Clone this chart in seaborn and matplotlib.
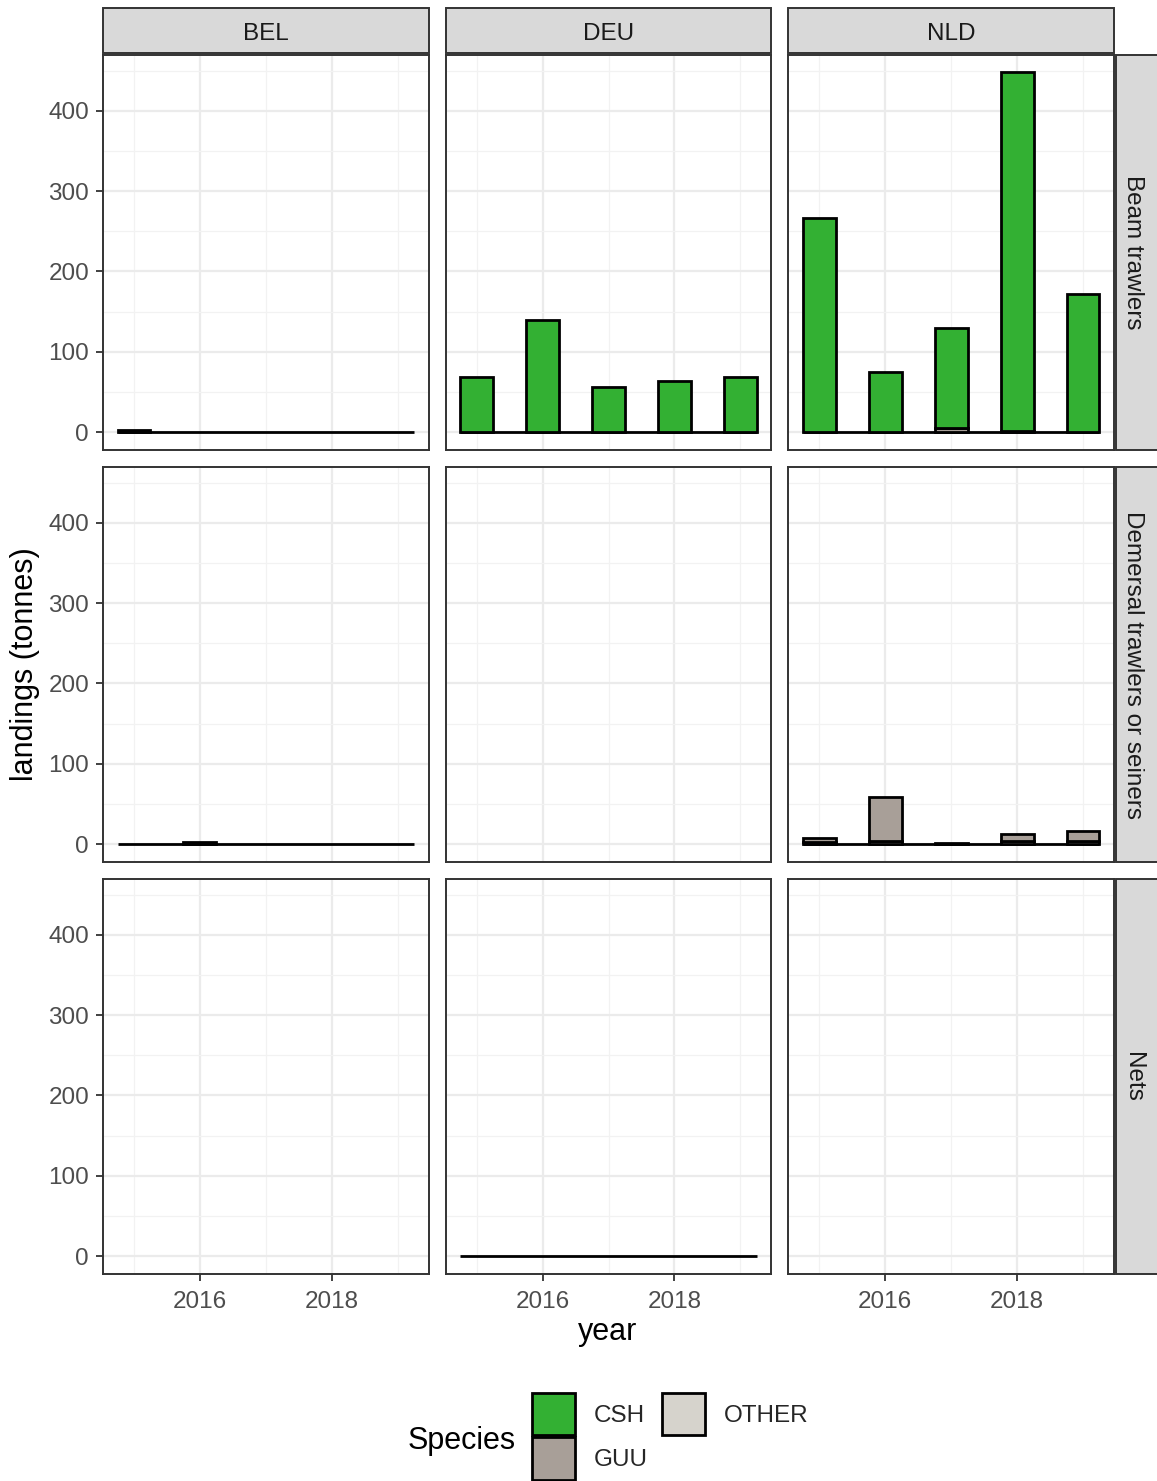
import matplotlib
matplotlib.use("Agg")
import matplotlib.pyplot as plt
from matplotlib.patches import Rectangle, Patch
from matplotlib.ticker import MultipleLocator, FixedLocator
import seaborn as sns
import pandas as pd
import numpy as np

# ---- data -------------------------------------------------------------
countries = ["BEL", "DEU", "NLD"]
gears = ["Beam trawlers", "Demersal trawlers or seiners", "Nets"]
species = ["CSH", "GUU", "OTHER"]
species_colors = ["#33B033", "#A89F98", "#D6D3CC"]
years = [2015, 2016, 2017, 2018, 2019]

# landings (tonnes) per year, 2015-2019
bel_beam_csh = [2, 0, 0, 0, 0]
deu_beam_csh = [68, 140, 56, 63, 68]
nld_beam_csh = [266, 75, 125, 447, 172]
nld_beam_guu = [0, 0, 5, 1, 0]
bel_dem_guu = [0, 2, 0, 0, 0]
nld_dem_guu = [6, 54, 1, 8, 12]
nld_dem_other = [2, 4, 0, 4, 4]
deu_nets_other = [0, 0, 0, 0, 0]

records = [
    ("BEL", "Beam trawlers", "CSH", bel_beam_csh),
    ("DEU", "Beam trawlers", "CSH", deu_beam_csh),
    ("NLD", "Beam trawlers", "CSH", nld_beam_csh),
    ("NLD", "Beam trawlers", "GUU", nld_beam_guu),
    ("BEL", "Demersal trawlers or seiners", "GUU", bel_dem_guu),
    ("NLD", "Demersal trawlers or seiners", "GUU", nld_dem_guu),
    ("NLD", "Demersal trawlers or seiners", "OTHER", nld_dem_other),
    ("DEU", "Nets", "OTHER", deu_nets_other),
]
rows = []
for c, g, s, vals in records:
    for y, v in zip(years, vals):
        rows.append({"country": c, "gear": g, "species": s, "year": y, "landings": v})
df = pd.DataFrame(rows)
df["country"] = pd.Categorical(df["country"], countries)
df["gear"] = pd.Categorical(df["gear"], gears)

# ---- style ------------------------------------------------------------
sns.set_theme(style="white")
plt.rcParams["font.family"] = ["Liberation Sans", "DejaVu Sans"]

BAR_W = 0.5
EDGE = "black"


def stacked_bars(data, **kw):
    ax = plt.gca()
    if data.empty:
        return
    wide = (data.pivot_table(index="year", columns="species", values="landings",
                             aggfunc="sum", observed=False)
            .reindex(columns=species, fill_value=0).fillna(0))
    xs = wide.index.values.astype(float)
    ax.hlines(0, xs.min() - BAR_W / 2, xs.max() + BAR_W / 2, color=EDGE, lw=2.0, zorder=3)
    bottom = np.zeros(len(wide))
    # stack from the last species level upward so the first ends on top
    for sp, col in zip(species[::-1], species_colors[::-1]):
        h = wide[sp].values
        mask = h > 0
        if mask.any():
            ax.bar(xs[mask], h[mask], bottom=bottom[mask], width=BAR_W,
                   color=col, edgecolor=EDGE, linewidth=2.0, zorder=3)
        bottom += h


g = sns.FacetGrid(df, row="gear", col="country", row_order=gears, col_order=countries,
                  sharex=True, sharey=True, height=4, aspect=0.82, despine=False,
                  dropna=False)
g.map_dataframe(stacked_bars)
g.set_titles("")
g.set_axis_labels("", "")

fig = g.figure
fig.set_size_inches(11.57, 14.81)
W, H = 1157, 1481
fig.subplots_adjust(left=103 / W, right=1114 / W, top=1 - 55 / H, bottom=1 - 1274 / H,
                    wspace=17 / 326, hspace=17 / 395)

TICK_C = "#4D4D4D"
BORDER_C = "#333333"
for i, gear in enumerate(gears):
    for j, ctry in enumerate(countries):
        ax = g.axes[i, j]
        ax.set_xlim(2014.53, 2019.47)
        ax.set_ylim(-22.35, 469.35)
        ax.xaxis.set_major_locator(FixedLocator([2016, 2018]))
        ax.xaxis.set_minor_locator(FixedLocator([2015, 2017, 2019]))
        ax.yaxis.set_major_locator(MultipleLocator(100))
        ax.yaxis.set_minor_locator(FixedLocator([50, 150, 250, 350, 450]))
        ax.grid(True, which="major", color="#EBEBEB", lw=1.6, zorder=0)
        ax.grid(True, which="minor", color="#F2F2F2", lw=0.9, zorder=0)
        ax.set_axisbelow(True)
        for sp in ax.spines.values():
            sp.set_color(BORDER_C)
            sp.set_linewidth(1.4)
            sp.set_zorder(5)
        ax.tick_params(which="major", length=5, width=1.3, color=BORDER_C,
                       labelsize=17.5, labelcolor=TICK_C,
                       left=(j == 0), bottom=(i == 2))
        ax.tick_params(axis="x", which="major", pad=7)
        ax.tick_params(axis="y", which="major", pad=5)
        ax.tick_params(which="minor", length=0)
        ax.set_xticklabels(["2016", "2018"] if i == 2 else [])
        if j == 0:
            ax.set_yticks([0, 100, 200, 300, 400])
            ax.set_yticklabels(["0", "100", "200", "300", "400"])
        else:
            ax.tick_params(labelleft=False)
        # column strip
        if i == 0:
            ax.add_patch(Rectangle((0, 1 + 2 / 395), 1, 45 / 395, transform=ax.transAxes,
                                   facecolor="#D9D9D9", edgecolor=BORDER_C, lw=1.4,
                                   clip_on=False, zorder=6))
            ax.text(0.5, 1 + 20.5 / 395, ctry, transform=ax.transAxes, ha="center",
                    va="center", fontsize=17.5, color="#1A1A1A", zorder=7)
        # row strip
        if j == 2:
            ax.add_patch(Rectangle((1 + 2 / 326, 0), 46 / 326, 1, transform=ax.transAxes,
                                   facecolor="#D9D9D9", edgecolor=BORDER_C, lw=1.4,
                                   clip_on=False, zorder=6))
            ax.text(1 + 19.5 / 326, 0.5, gear, transform=ax.transAxes, ha="center",
                    va="center", rotation=-90, fontsize=17.5, color="#1A1A1A", zorder=7)

fig.text(608 / W, 1 - 1332 / H, "year", ha="center", va="center", fontsize=22, color="black")
fig.text(25 / W, 1 - 664 / H, "landings (tonnes)", ha="center", va="center",
         rotation=90, fontsize=22, color="black")

# legend
fig.text(408 / W, 1 - 1441 / H, "Species", ha="left", va="center", fontsize=22, color="black")
handles = [Patch(facecolor=c, edgecolor="black", lw=2.0) for c in species_colors]
fig.legend(handles, species, loc="upper left", bbox_to_anchor=(532 / W, 1 - 1393 / H),
           ncol=2, frameon=False, fontsize=17.5, handlelength=1.78, handleheight=2.3,
           handletextpad=0.75, columnspacing=0.6, labelspacing=0.08, borderpad=0,
           borderaxespad=0)

fig.savefig("out.png", dpi=100)
